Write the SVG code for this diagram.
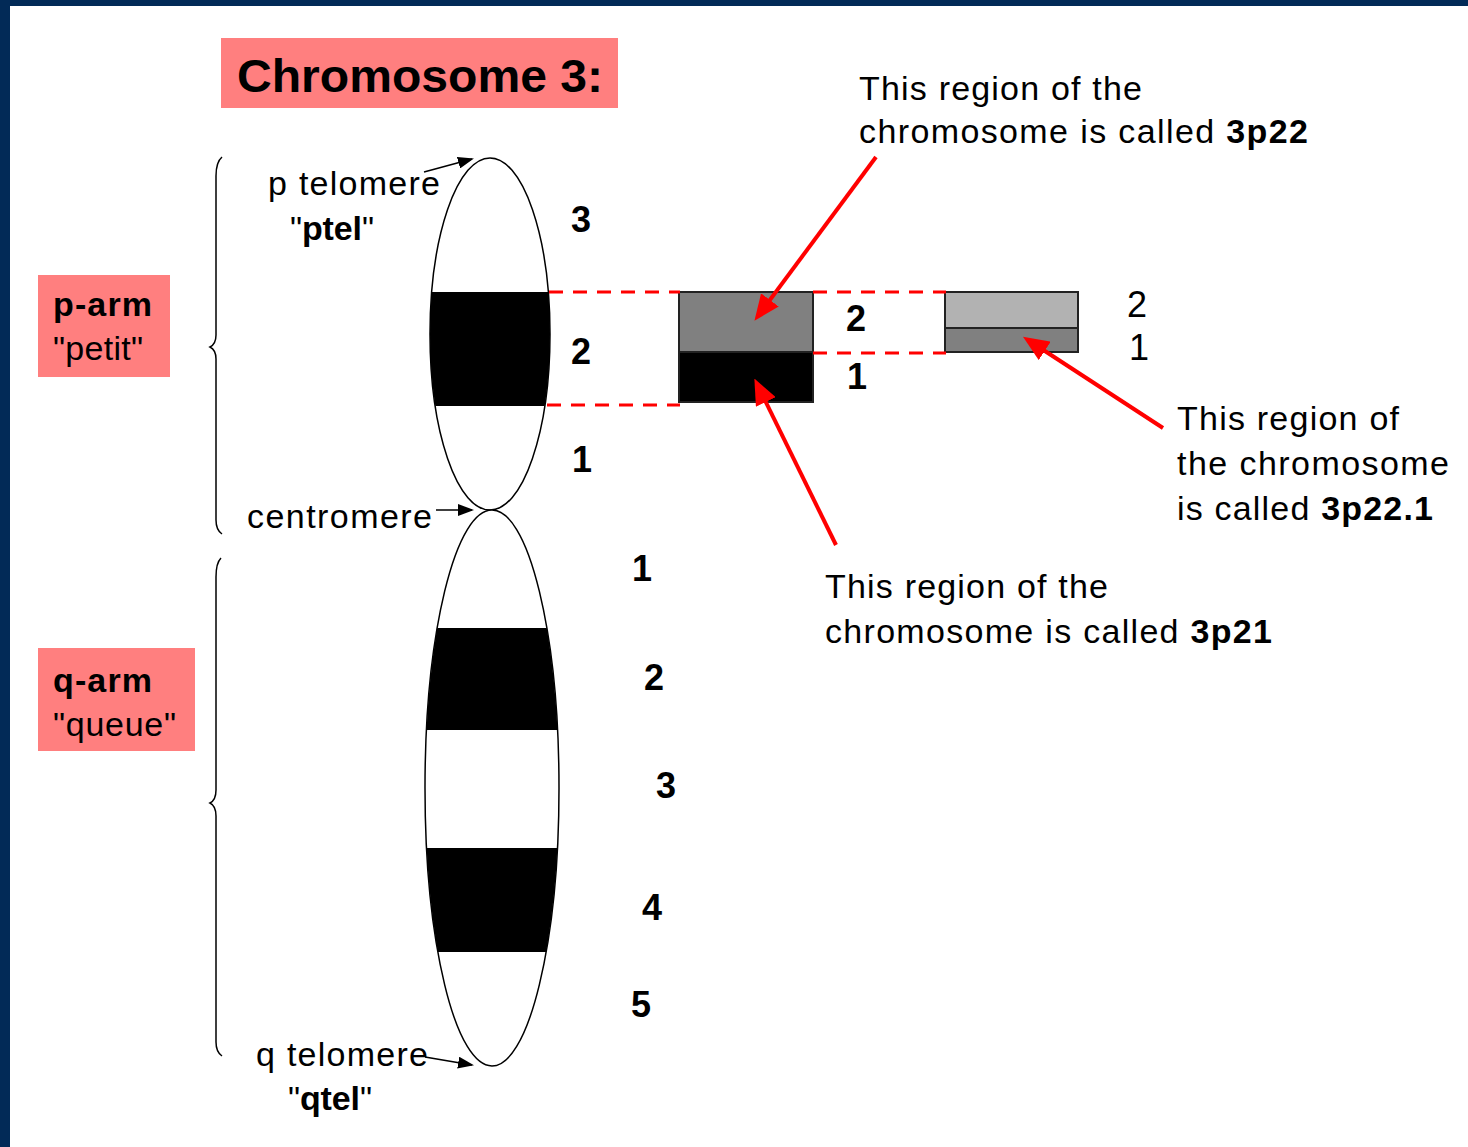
<svg xmlns="http://www.w3.org/2000/svg" width="1468" height="1147" viewBox="0 0 1468 1147">
  <defs>
    <style>
      text { font-family: "Liberation Sans", Arial, sans-serif; fill: #000; }
      .t { font-size: 34px; }
      .b { font-weight: bold; }
      .num { font-size: 36px; font-weight: bold; }
      .numr { font-size: 36px; }
      .lbl { fill: #ff7f7f; }
      .dash { stroke: #ff0000; stroke-width: 3; stroke-dasharray: 14 10; fill: none; }
      .red { stroke: #ff0000; stroke-width: 4; fill: none; marker-end: url(#redHead); }
      .blk { stroke: #000; stroke-width: 1.5; fill: none; marker-end: url(#blkHead); }
      .outline { fill: none; stroke: #000; stroke-width: 1.5; }
      .brace { fill: none; stroke: #000; stroke-width: 1.5; }
      .box { stroke: #222; stroke-width: 2; }
    </style>
    <marker id="redHead" markerUnits="userSpaceOnUse" markerWidth="26" markerHeight="22" refX="20" refY="11" orient="auto" viewBox="0 0 26 22">
      <path d="M0,0 L26,11 L0,22 z" fill="#ff0000"/>
    </marker>
    <marker id="blkHead" markerUnits="userSpaceOnUse" markerWidth="16" markerHeight="12" refX="14" refY="6" orient="auto" viewBox="0 0 16 12">
      <path d="M0,0 L16,6 L0,12 z" fill="#000"/>
    </marker>
    <clipPath id="pClip"><ellipse cx="490" cy="334" rx="60" ry="176"/></clipPath>
    <clipPath id="qClip"><ellipse cx="492" cy="788" rx="67" ry="278"/></clipPath>
  </defs>

  <!-- page and frame -->
  <rect x="0" y="0" width="1468" height="1147" fill="#ffffff"/>
  <rect x="0" y="0" width="1468" height="6" fill="#022a57"/>
  <rect x="0" y="0" width="10" height="1147" fill="#022a57"/>

  <!-- title -->
  <g id="title">
    <rect class="lbl" x="221" y="38" width="397" height="70"/>
    <text x="237" y="92" font-size="47" class="b" textLength="366" lengthAdjust="spacingAndGlyphs">Chromosome 3:</text>
  </g>

  <!-- arm labels -->
  <g id="p-arm-label">
    <rect class="lbl" x="38" y="275" width="132" height="102"/>
    <text class="t b" x="53" y="316" textLength="99">p-arm</text>
    <text class="t" x="53" y="360" textLength="90">"petit"</text>
  </g>
  <g id="q-arm-label">
    <rect class="lbl" x="38" y="648" width="157" height="103"/>
    <text class="t b" x="53" y="692" textLength="99">q-arm</text>
    <text class="t" x="53" y="736" textLength="123">"queue"</text>
  </g>

  <!-- braces -->
  <g id="p-brace">
    <path class="brace" d="M222,157 Q216,162 216,176 L216,335 Q216,344 210,347 Q216,350 216,359 L216,520 Q216,530 222,534"/>
  </g>
  <g id="q-brace">
    <path class="brace" d="M221,558 Q216,563 216,577 L216,790 Q216,800 210,803 Q216,806 216,816 L216,1042 Q216,1052 222,1056"/>
  </g>

  <!-- p arm of the chromosome -->
  <g id="p-arm">
    <ellipse cx="490" cy="334" rx="60" ry="176" fill="#fff"/>
    <rect x="420" y="292" width="140" height="114" fill="#000" clip-path="url(#pClip)"/>
    <ellipse class="outline" cx="490" cy="334" rx="60" ry="176"/>
  </g>

  <!-- q arm of the chromosome -->
  <g id="q-arm">
    <ellipse cx="492" cy="788" rx="67" ry="278" fill="#fff"/>
    <rect x="420" y="628" width="150" height="102" fill="#000" clip-path="url(#qClip)"/>
    <rect x="420" y="848" width="150" height="104" fill="#000" clip-path="url(#qClip)"/>
    <ellipse class="outline" cx="492" cy="788" rx="67" ry="278"/>
  </g>

  <!-- band numbers -->
  <g id="p-bands">
    <text class="num" x="571" y="232">3</text>
    <text class="num" x="571" y="364">2</text>
    <text class="num" x="572" y="472">1</text>
  </g>
  <g id="q-bands">
    <text class="num" x="632" y="581">1</text>
    <text class="num" x="644" y="690">2</text>
    <text class="num" x="656" y="798">3</text>
    <text class="num" x="642" y="920">4</text>
    <text class="num" x="631" y="1017">5</text>
  </g>

  <!-- telomere / centromere labels -->
  <g id="p-telomere">
    <text class="t" x="268" y="195" textLength="172">p telomere</text>
    <text class="t" x="290" y="240" textLength="84">"<tspan class="b">ptel</tspan>"</text>
  </g>
  <g id="centromere">
    <text class="t" x="247" y="528" textLength="185">centromere</text>
  </g>
  <g id="q-telomere">
    <text class="t" x="256" y="1066" textLength="172">q telomere</text>
    <text class="t" x="288" y="1110" textLength="84">"<tspan class="b">qtel</tspan>"</text>
  </g>

  <!-- zoomed band 3p2 -->
  <g id="band-3p2">
    <rect class="box" x="679" y="292" width="134" height="60" fill="#808080"/>
    <rect class="box" x="679" y="352" width="134" height="50" fill="#000"/>
    <text class="num" x="846" y="331">2</text>
    <text class="num" x="847" y="389">1</text>
  </g>

  <!-- zoomed sub-band 3p22 -->
  <g id="band-3p22">
    <rect class="box" x="945" y="292" width="133" height="36" fill="#b2b2b2"/>
    <rect class="box" x="945" y="328" width="133" height="24" fill="#808080"/>
    <text class="numr" x="1127" y="317">2</text>
    <text class="numr" x="1129" y="360">1</text>
  </g>

  <!-- callouts -->
  <g id="note-3p22">
    <text class="t" x="859" y="100" textLength="283">This region of the</text>
    <text class="t" x="859" y="143" textLength="449">chromosome is called <tspan class="b">3p22</tspan></text>
  </g>
  <g id="note-3p21">
    <text class="t" x="825" y="598" textLength="283">This region of the</text>
    <text class="t" x="825" y="643" textLength="447">chromosome is called <tspan class="b">3p21</tspan></text>
  </g>
  <g id="note-3p22-1">
    <text class="t" x="1177" y="430" textLength="222">This region of</text>
    <text class="t" x="1177" y="475" textLength="272">the chromosome</text>
    <text class="t" x="1177" y="520" textLength="256">is called <tspan class="b">3p22.1</tspan></text>
  </g>

  <!-- connectors -->
  <g id="connectors">
    <line class="dash" x1="549" y1="292" x2="680" y2="292"/>
    <line class="dash" x1="547" y1="405" x2="680" y2="405"/>
    <line class="dash" x1="813" y1="292" x2="946" y2="292"/>
    <line class="dash" x1="813" y1="353" x2="946" y2="353"/>
    <line class="red" x1="876" y1="157" x2="758" y2="316"/>
    <line class="red" x1="836" y1="545" x2="757" y2="384"/>
    <line class="red" x1="1163" y1="428" x2="1028" y2="340"/>
    <line class="blk" x1="424" y1="172" x2="472" y2="159"/>
    <line class="blk" x1="436" y1="510" x2="472" y2="510"/>
    <line class="blk" x1="425" y1="1057" x2="472" y2="1065"/>
  </g>
</svg>
